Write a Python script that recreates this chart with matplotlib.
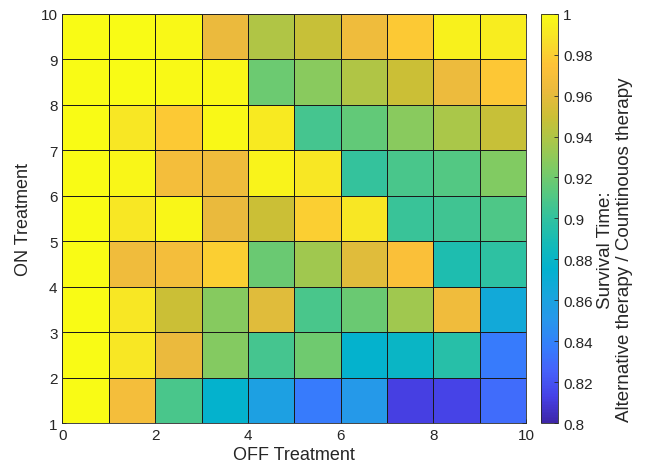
import matplotlib
matplotlib.use('Agg')
import matplotlib.pyplot as plt
import numpy as np
from matplotlib.colors import LinearSegmentedColormap

plt.rcParams['font.family'] = ['Liberation Sans', 'DejaVu Sans']

# Grid edges
x_edges = np.arange(0, 11)
y_edges = np.arange(1, 11)

# Survival time ratio, rows from ON=1 (bottom) to ON=9 (top), cols OFF=0..9
row_1 = [1.000, 0.968, 0.908, 0.876, 0.858, 0.836, 0.852, 0.812, 0.814, 0.830]
row_2 = [1.000, 0.990, 0.963, 0.926, 0.907, 0.920, 0.876, 0.880, 0.896, 0.836]
row_3 = [1.000, 0.990, 0.950, 0.927, 0.958, 0.908, 0.918, 0.935, 0.966, 0.866]
row_4 = [1.000, 0.966, 0.968, 0.980, 0.918, 0.935, 0.958, 0.972, 0.892, 0.899]
row_5 = [1.000, 0.990, 0.997, 0.962, 0.950, 0.980, 0.990, 0.903, 0.905, 0.910]
row_6 = [1.000, 0.997, 0.968, 0.965, 0.996, 0.990, 0.901, 0.908, 0.911, 0.925]
row_7 = [1.000, 0.990, 0.978, 0.998, 0.992, 0.907, 0.916, 0.928, 0.938, 0.948]
row_8 = [1.000, 1.000, 0.999, 0.998, 0.919, 0.928, 0.940, 0.950, 0.964, 0.977]
row_9 = [1.000, 1.000, 0.998, 0.963, 0.940, 0.948, 0.965, 0.978, 0.995, 0.993]
Z = np.array([row_1, row_2, row_3, row_4, row_5, row_6, row_7, row_8, row_9])

cbar_ticks = [0.8, 0.82, 0.84, 0.86, 0.88, 0.9, 0.92, 0.94, 0.96, 0.98, 1.0]
cbar_labels = ['0.8', '0.82', '0.84', '0.86', '0.88', '0.9', '0.92', '0.94', '0.96', '0.98', '1']

# approximate MATLAB parula
parula_pts = [
    (0.000, (0.2422, 0.1504, 0.6603)),
    (0.063, (0.2760, 0.2560, 0.9010)),
    (0.125, (0.2760, 0.3800, 0.9820)),
    (0.188, (0.2060, 0.4950, 0.9880)),
    (0.250, (0.1540, 0.5900, 0.9220)),
    (0.313, (0.0900, 0.6500, 0.8630)),
    (0.375, (0.0100, 0.6950, 0.8100)),
    (0.438, (0.0800, 0.7300, 0.7200)),
    (0.500, (0.1900, 0.7590, 0.6250)),
    (0.563, (0.3400, 0.7850, 0.5000)),
    (0.625, (0.5000, 0.7950, 0.3900)),
    (0.688, (0.6600, 0.7800, 0.2900)),
    (0.750, (0.8000, 0.7500, 0.2100)),
    (0.813, (0.9200, 0.7300, 0.2400)),
    (0.875, (0.9950, 0.7600, 0.2200)),
    (0.938, (0.9700, 0.8800, 0.1600)),
    (1.000, (0.9769, 0.9839, 0.0805)),
]
parula = LinearSegmentedColormap.from_list('parula', parula_pts)

txt = (0.15, 0.15, 0.15)

fig = plt.figure(figsize=(6.57, 4.77), dpi=100)
ax = fig.add_axes([0.095, 0.111, 0.706, 0.858])
mesh = ax.pcolormesh(x_edges, y_edges, Z, cmap=parula, vmin=0.8, vmax=1.0,
                     edgecolor=(0.1, 0.1, 0.1), linewidth=0.6)
ax.set_xlim(0, 10)
ax.set_ylim(1, 10)
ax.set_xticks([0, 2, 4, 6, 8, 10])
ax.set_yticks(range(1, 11))
ax.tick_params(direction='in', length=3, top=True, right=True,
               labelsize=11, colors=txt, width=0.6)
for s in ax.spines.values():
    s.set_color(txt)
    s.set_linewidth(0.6)
ax.set_xlabel('OFF Treatment', fontsize=13, color=txt, labelpad=3)
ax.set_ylabel('ON Treatment', fontsize=13, color=txt, labelpad=6)

cax = fig.add_axes([0.824, 0.111, 0.026, 0.858])
cb = fig.colorbar(mesh, cax=cax, ticks=cbar_ticks)
cb.ax.set_yticklabels(cbar_labels)
cb.ax.tick_params(direction='in', length=3, labelsize=11, colors=txt, width=0.6)
cb.outline.set_edgecolor(txt)
cb.outline.set_linewidth(0.6)

fig.text(0.936, 0.476, 'Survival Time:\nAlternative therapy / Countinouos therapy',
         rotation=90, ha='center', va='center', multialignment='center',
         fontsize=13.5, color=txt, linespacing=1.1)

fig.savefig('out.png', dpi=100)
